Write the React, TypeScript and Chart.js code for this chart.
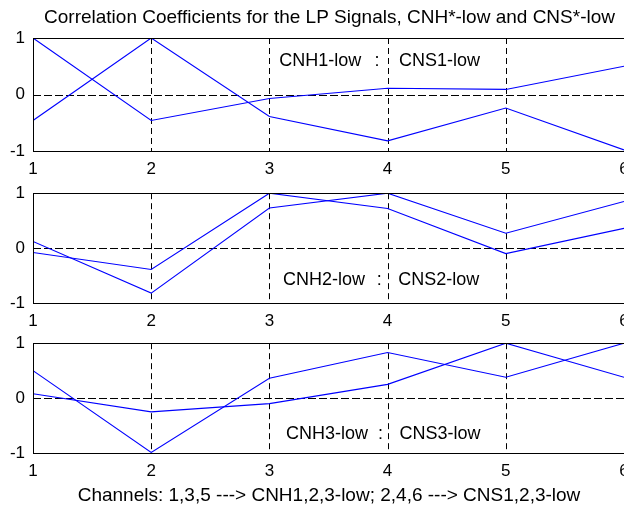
import React, { useEffect, useRef } from "react";
import { Chart, registerables } from "chart.js";

Chart.register(...registerables);

// ---- data ----
const channels = [1, 2, 3, 4, 5, 6];
const xTickValues = [1, 2, 3, 4, 5, 6];
const yTickValues = [-1, 0, 1];

const plot1SeriesA = [1.0, -0.46, -0.07, 0.11, 0.09, 0.5];
const plot1SeriesB = [-0.46, 1.0, -0.39, -0.82, -0.24, -0.98];
const plot2SeriesA = [-0.08, -0.39, 1.0, 0.72, -0.1, 0.36];
const plot2SeriesB = [0.12, -0.82, 0.73, 1.0, 0.27, 0.85];
const plot3SeriesA = [0.5, -0.99, 0.36, 0.83, 0.38, 1.0];
const plot3SeriesB = [0.08, -0.25, -0.1, 0.25, 1.0, 0.38];

const plot1Notes = ["CNH1-low", ":", "CNS1-low"];
const plot2Notes = ["CNH2-low", ":", "CNS2-low"];
const plot3Notes = ["CNH3-low", ":", "CNS3-low"];

const titleText = "Correlation Coefficients for the LP Signals, CNH*-low and CNS*-low";
const xLabelText = "Channels: 1,3,5 ---> CNH1,2,3-low; 2,4,6 ---> CNS1,2,3-low";

// ---- styling / layout ----
const FONT = "'Liberation Sans', Arial, Helvetica, sans-serif";
const CANVAS_W = 660;
const LEFT = 33;

type NotePos = { xs: number[]; y: number };

type SubProps = {
  top: number;
  height: number;
  padTop: number;
  padBottom: number;
  xAxisH: number;
  a: number[];
  b: number[];
  notes: string[];
  notePos: NotePos;
  title?: { text: string; x: number; y: number };
  xlabel?: { text: string; x: number; y: number };
};

function Subplot(p: SubProps) {
  const ref = useRef<HTMLCanvasElement>(null);
  useEffect(() => {
    const canvas = ref.current!;
    const frame = {
      id: "frame",
      beforeDatasetsDraw(chart: any) {
        const { ctx, chartArea: ar, scales } = chart;
        const x = scales.x;
        const y = scales.y;
        ctx.save();
        ctx.strokeStyle = "#000";
        ctx.lineWidth = 1;
        ctx.setLineDash([6, 4]);
        xTickValues.slice(1, -1).forEach((v) => {
          const px = Math.round(x.getPixelForValue(v)) + 0.5;
          ctx.beginPath();
          ctx.moveTo(px, ar.top);
          ctx.lineTo(px, ar.bottom);
          ctx.stroke();
        });
        ctx.setLineDash([8, 3]);
        yTickValues.slice(1, -1).forEach((v) => {
          const py = Math.round(y.getPixelForValue(v)) + 0.5;
          ctx.beginPath();
          ctx.moveTo(ar.left, py);
          ctx.lineTo(ar.right, py);
          ctx.stroke();
        });
        ctx.restore();
      },
      afterDatasetsDraw(chart: any) {
        const { ctx, chartArea: ar, scales } = chart;
        const x = scales.x;
        const y = scales.y;
        ctx.save();
        ctx.strokeStyle = "#000";
        ctx.lineWidth = 1;
        ctx.setLineDash([]);
        const l = Math.round(ar.left) + 0.5;
        const t = Math.round(ar.top) + 0.5;
        const r = Math.round(ar.right) + 0.5;
        const bt = Math.round(ar.bottom) + 0.5;
        ctx.strokeRect(l, t, r - l, bt - t);

        ctx.fillStyle = "#000";
        ctx.font = `18px ${FONT}`;
        ctx.textBaseline = "middle";
        const py = y.getPixelForValue(p.notePos.y);
        p.notes.forEach((s, i) => {
          ctx.textAlign = i === 1 ? "center" : "left";
          ctx.fillText(s, x.getPixelForValue(p.notePos.xs[i]), py);
        });

        ctx.textBaseline = "alphabetic";
        ctx.textAlign = "center";
        ctx.font = `19px ${FONT}`;
        if (p.title) ctx.fillText(p.title.text, p.title.x, p.title.y);
        if (p.xlabel) ctx.fillText(p.xlabel.text, p.xlabel.x, p.xlabel.y);
        ctx.restore();
      },
    };

    const mk = (vals: number[]) => ({
      data: channels.map((c, i) => ({ x: c, y: vals[i] })),
      borderColor: "#0000ff",
      borderWidth: 1.1,
      pointRadius: 0,
      fill: false,
      tension: 0,
    });

    const tickFont = { family: FONT, size: 17 };
    const chart = new Chart(canvas, {
      type: "line",
      data: { datasets: [mk(p.a), mk(p.b)] as any },
      options: {
        responsive: false,
        animation: false,
        devicePixelRatio: 1,
        layout: {
          padding: { top: p.padTop, bottom: p.padBottom, left: 0, right: CANVAS_W - 624 },
        },
        plugins: {
          legend: { display: false },
          tooltip: { enabled: false },
          title: { display: false },
        },
        scales: {
          x: {
            type: "linear",
            min: 1,
            max: 6,
            afterBuildTicks: (s: any) => {
              s.ticks = xTickValues.map((v) => ({ value: v }));
            },
            grid: { display: false, drawTicks: false },
            border: { display: false },
            ticks: { font: tickFont, color: "#000", padding: 8, maxRotation: 0, autoSkip: false },
            afterFit: (s: any) => {
              s.height = p.xAxisH;
            },
          },
          y: {
            type: "linear",
            min: -1,
            max: 1,
            afterBuildTicks: (s: any) => {
              s.ticks = yTickValues.map((v) => ({ value: v }));
            },
            grid: { display: false, drawTicks: false },
            border: { display: false },
            ticks: { font: tickFont, color: "#000", padding: 8, autoSkip: false },
            afterFit: (s: any) => {
              s.width = LEFT;
            },
          },
        },
      } as any,
      plugins: [frame],
    });
    return () => chart.destroy();
  }, []);
  return (
    <canvas
      ref={ref}
      width={CANVAS_W}
      height={p.height}
      style={{ position: "absolute", left: 0, top: p.top, width: CANVAS_W, height: p.height }}
    />
  );
}

export default function App() {
  return (
    <div
      style={{
        position: "fixed",
        left: 0,
        top: 0,
        width: 624,
        height: 506,
        overflow: "hidden",
        background: "#fff",
      }}
    >
      <Subplot
        top={0}
        height={180}
        padTop={38}
        padBottom={0}
        xAxisH={29}
        a={plot1SeriesA}
        b={plot1SeriesB}
        notes={plot1Notes}
        notePos={{ xs: [3.084, 3.91, 4.097], y: 0.6 }}
        title={{ text: titleText, x: 329.5, y: 23.3 }}
      />
      <Subplot
        top={175}
        height={155}
        padTop={15}
        padBottom={0}
        xAxisH={27}
        a={plot2SeriesA}
        b={plot2SeriesB}
        notes={plot2Notes}
        notePos={{ xs: [3.115, 3.93, 4.09], y: -0.58 }}
      />
      <Subplot
        top={325}
        height={181}
        padTop={15}
        padBottom={24}
        xAxisH={29}
        a={plot3SeriesA}
        b={plot3SeriesB}
        notes={plot3Notes}
        notePos={{ xs: [3.14, 3.94, 4.1], y: -0.65 }}
        xlabel={{ text: xLabelText, x: 329, y: 175.7 }}
      />
    </div>
  );
}
